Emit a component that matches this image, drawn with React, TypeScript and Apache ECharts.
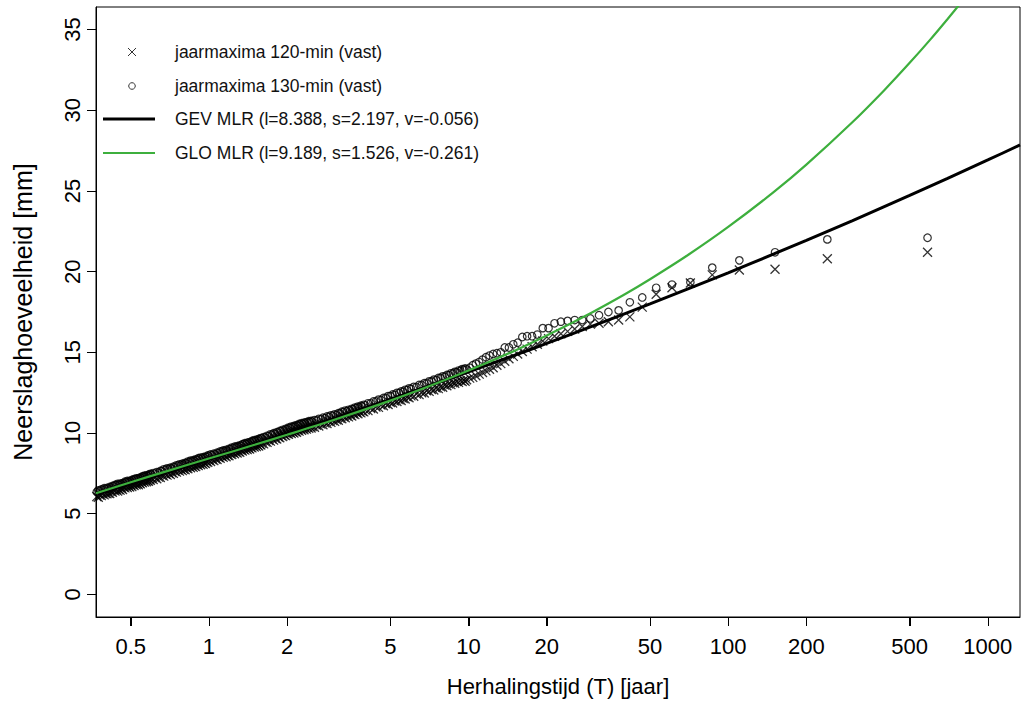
import React, { useEffect, useRef } from "react";
import * as echarts from "echarts";

// Return periods (T, years) shared by both annual-maxima series (same ranks)
const returnPeriod = [
  0.37, 0.38, 0.39, 0.40, 0.41, 0.42, 0.43, 0.44, 0.45, 0.46, 0.47, 0.48, 0.49, 0.50,
  0.51, 0.52, 0.53, 0.54, 0.55, 0.56, 0.57, 0.58, 0.59, 0.60,
  0.62, 0.64, 0.66, 0.68, 0.70, 0.72, 0.74, 0.76, 0.78, 0.80, 0.82, 0.84, 0.86, 0.88, 0.90, 0.92, 0.94, 0.96, 0.98, 1.00,
  1.03, 1.06, 1.09, 1.12, 1.15, 1.18, 1.21, 1.24, 1.27, 1.30, 1.33, 1.36, 1.39, 1.42, 1.45, 1.48, 1.51, 1.54, 1.57, 1.60,
  1.65, 1.70, 1.75, 1.80, 1.85, 1.90, 1.95, 2.00, 2.05, 2.10, 2.15, 2.20, 2.25, 2.30, 2.35, 2.40, 2.45, 2.50,
  2.6, 2.7, 2.8, 2.9, 3.0, 3.1, 3.2, 3.3, 3.4, 3.5, 3.6, 3.7, 3.8, 3.9, 4.0,
  4.2, 4.4, 4.6, 4.8, 5.0, 5.2, 5.4, 5.6, 5.8, 6.0,
  6.3, 6.6, 6.9, 7.2, 7.5, 7.8, 8.1, 8.4, 8.7, 9.0, 9.3, 9.6,
  9.83, 10.10, 10.38, 10.67, 10.99, 11.32, 11.67, 12.04, 12.44, 12.86, 13.31, 13.79, 14.31, 14.87, 15.46, 16.11,
  16.81, 17.57, 18.41, 19.32, 20.33, 21.44, 22.68, 24.07, 25.64, 27.42, 29.45, 31.81, 34.57, 37.85, 41.81, 46.67,
  52.80, 60.75, 71.50, 86.82, 110.4, 151.5, 240.9, 585.8,
];

// jaarmaxima 120-min (vast) [mm]
const max120 = [
  6.06, 6.16, 6.23, 6.25, 6.28, 6.37, 6.46, 6.49, 6.49, 6.56, 6.64, 6.71, 6.71, 6.74,
  6.80, 6.86, 6.87, 6.89, 6.96, 7.03, 7.05, 7.06, 7.12, 7.18,
  7.23, 7.27, 7.36, 7.45, 7.49, 7.53, 7.62, 7.70, 7.73, 7.76, 7.83, 7.91, 7.94, 7.96, 8.03, 8.10, 8.12, 8.15, 8.22, 8.29,
  8.34, 8.39, 8.48, 8.56, 8.59, 8.62, 8.71, 8.78, 8.82, 8.85, 8.93, 9.00, 9.03, 9.06, 9.12, 9.19, 9.22, 9.25, 9.31, 9.37,
  9.45, 9.54, 9.62, 9.66, 9.75, 9.83, 9.88, 9.96, 10.03, 10.06, 10.10, 10.16, 10.23, 10.26, 10.29, 10.35, 10.38, 10.40,
  10.48, 10.55, 10.62, 10.71, 10.77, 10.82, 10.91, 11.00, 11.05, 11.10, 11.18, 11.26, 11.30, 11.35, 11.42,
  11.52, 11.61, 11.73, 11.81, 11.89, 11.99, 12.06, 12.14, 12.24, 12.30,
  12.41, 12.50, 12.62, 12.70, 12.79, 12.87, 12.97, 13.04, 13.12, 13.19, 13.25, 13.28,
  13.3, 13.4, 13.45, 13.55, 13.65, 13.75, 13.85, 13.95, 14.05, 14.2, 14.3, 14.45, 14.6, 14.75, 14.9, 15.05,
  15.2, 15.35, 15.5, 15.7, 15.85, 16.0, 16.15, 16.3, 16.45, 16.6, 16.75, 16.8, 16.9, 17.0, 17.2, 17.8,
  18.6, 19.0, 19.3, 19.8, 20.1, 20.15, 20.8, 21.2,
];

// jaarmaxima 130-min (vast) [mm]
const max130 = [
  6.34, 6.42, 6.49, 6.53, 6.56, 6.63, 6.70, 6.77, 6.79, 6.82, 6.88, 6.95, 6.97, 7.00,
  7.06, 7.12, 7.14, 7.16, 7.22, 7.29, 7.31, 7.33, 7.38, 7.43,
  7.49, 7.54, 7.64, 7.73, 7.77, 7.81, 7.89, 7.98, 8.02, 8.05, 8.12, 8.21, 8.24, 8.27, 8.34, 8.41, 8.42, 8.45, 8.51, 8.58,
  8.63, 8.68, 8.76, 8.84, 8.88, 8.91, 9.00, 9.07, 9.11, 9.14, 9.21, 9.29, 9.32, 9.35, 9.41, 9.48, 9.51, 9.54, 9.60, 9.66,
  9.72, 9.81, 9.90, 9.95, 10.03, 10.11, 10.16, 10.24, 10.32, 10.36, 10.40, 10.46, 10.53, 10.56, 10.59, 10.65, 10.68, 10.70,
  10.78, 10.85, 10.92, 11.01, 11.07, 11.12, 11.21, 11.30, 11.35, 11.40, 11.48, 11.56, 11.60, 11.65, 11.72,
  11.84, 11.96, 12.05, 12.17, 12.29, 12.37, 12.48, 12.56, 12.67, 12.74,
  12.85, 12.98, 13.08, 13.20, 13.29, 13.41, 13.49, 13.59, 13.69, 13.76, 13.86, 13.93,
  13.95, 14.05, 14.2, 14.3, 14.4, 14.55, 14.7, 14.8, 14.9, 14.95, 15.0, 15.3, 15.3, 15.5, 15.6, 15.95,
  16.0, 16.0, 16.1, 16.5, 16.5, 16.8, 16.9, 16.95, 17.0, 17.0, 17.1, 17.3, 17.5, 17.6, 18.1, 18.4,
  19.0, 19.2, 19.35, 20.25, 20.7, 21.2, 22.0, 22.1,
];

// Further (intermediate-rank) years of the dense part of the record
const returnPeriodMid = [
  0.375, 0.385, 0.395, 0.405, 0.415, 0.425, 0.435, 0.445, 0.455, 0.465, 0.475, 0.485, 0.495, 0.505,
  0.515, 0.525, 0.535, 0.545, 0.555, 0.565, 0.575, 0.585, 0.595, 0.61,
  0.63, 0.65, 0.67, 0.69, 0.71, 0.73, 0.75, 0.77, 0.79, 0.81, 0.83, 0.85, 0.87, 0.89, 0.91, 0.93, 0.95, 0.97, 0.99, 1.015,
  1.045, 1.075, 1.105, 1.135, 1.165, 1.195, 1.225, 1.255, 1.285, 1.315, 1.345, 1.375, 1.405, 1.435, 1.465, 1.495, 1.525, 1.555, 1.585, 1.625,
  1.675, 1.725, 1.775, 1.825, 1.875, 1.925, 1.975, 2.025, 2.075, 2.125, 2.175, 2.225, 2.275, 2.325, 2.375, 2.425, 2.475, 2.55,
  2.65, 2.75, 2.85, 2.95, 3.05, 3.15, 3.25, 3.35, 3.45, 3.55, 3.65, 3.75, 3.85, 3.95, 4.1,
  4.3, 4.5, 4.7, 4.9, 5.1, 5.3, 5.5, 5.7, 5.9, 6.15,
  6.45, 6.75, 7.05, 7.35, 7.65, 7.95, 8.25, 8.55, 8.85, 9.15, 9.45, 9.7,
];
const max120Mid = [
  6.02, 6.12, 6.17, 6.24, 6.25, 6.33, 6.41, 6.40, 6.46, 6.50, 6.60, 6.62, 6.66, 6.68,
  6.75, 6.79, 6.80, 6.85, 6.92, 6.96, 6.98, 7.01, 7.07, 7.12,
  7.17, 7.24, 7.33, 7.39, 7.43, 7.50, 7.58, 7.64, 7.67, 7.72, 7.79, 7.85, 7.87, 7.92, 7.99, 8.03, 8.06, 8.11, 8.18, 8.24,
  8.29, 8.36, 8.44, 8.50, 8.53, 8.59, 8.67, 8.72, 8.76, 8.81, 8.89, 8.94, 8.97, 9.01, 9.08, 9.13, 9.16, 9.20, 9.26, 9.33,
  9.42, 9.50, 9.56, 9.63, 9.71, 9.78, 9.84, 9.92, 9.97, 10.00, 10.05, 10.12, 10.17, 10.20, 10.24, 10.29, 10.31, 10.36,
  10.44, 10.51, 10.59, 10.66, 10.72, 10.79, 10.88, 10.95, 11.00, 11.06, 11.14, 11.20, 11.25, 11.31, 11.39,
  11.49, 11.59, 11.69, 11.77, 11.86, 11.95, 12.02, 12.11, 12.19, 12.28,
  12.38, 12.48, 12.58, 12.67, 12.75, 12.84, 12.93, 13.00, 13.08, 13.14, 13.19, 13.21,
];
const max130Mid = [
  6.45, 6.50, 6.58, 6.60, 6.66, 6.72, 6.78, 6.85, 6.87, 6.90, 6.98, 7.03, 7.04, 7.09,
  7.15, 7.19, 7.21, 7.25, 7.32, 7.36, 7.38, 7.42, 7.47, 7.52,
  7.58, 7.65, 7.75, 7.81, 7.85, 7.91, 8.00, 8.06, 8.10, 8.15, 8.23, 8.29, 8.32, 8.37, 8.44, 8.48, 8.50, 8.54, 8.61, 8.67,
  8.72, 8.78, 8.86, 8.92, 8.96, 9.02, 9.10, 9.15, 9.19, 9.24, 9.31, 9.37, 9.40, 9.44, 9.51, 9.56, 9.59, 9.63, 9.69, 9.75,
  9.83, 9.92, 9.99, 10.05, 10.13, 10.20, 10.26, 10.34, 10.40, 10.44, 10.49, 10.56, 10.61, 10.64, 10.68, 10.73, 10.75, 10.80,
  10.88, 10.95, 11.03, 11.10, 11.16, 11.23, 11.32, 11.39, 11.44, 11.50, 11.58, 11.64, 11.69, 11.75, 11.84,
  11.96, 12.07, 12.17, 12.29, 12.39, 12.49, 12.58, 12.68, 12.77, 12.86,
  12.98, 13.09, 13.20, 13.31, 13.41, 13.51, 13.60, 13.70, 13.79, 13.87, 13.96, 14.00,
];

// Fitted curves
const gevT = [0.3675, 0.5, 0.7, 1, 1.5, 2, 3, 5, 7, 10, 15, 20, 30, 50, 70, 100, 150, 200, 300, 500, 700, 1000, 1330];
const gevValues = [6.25, 6.90, 7.61, 8.39, 9.29, 9.94, 10.88, 12.09, 12.91, 13.79, 14.81, 15.55, 16.62, 18.00, 18.93, 19.93, 21.10, 21.94, 23.15, 24.72, 25.78, 26.92, 27.85];
const gloT = [0.3675, 0.5, 0.7, 1, 1.5, 2, 3, 5, 7, 10, 15, 20, 30, 40, 50, 70, 100, 150, 200, 300, 400, 500, 600, 700, 800];
const gloValues = [6.27, 6.95, 7.67, 8.42, 9.27, 9.89, 10.79, 12.01, 12.88, 13.87, 15.09, 16.04, 17.49, 18.60, 19.53, 21.03, 22.77, 24.94, 26.63, 29.24, 31.26, 32.94, 34.38, 35.66, 36.80];

const xTicks = [0.5, 1, 2, 5, 10, 20, 50, 100, 200, 500, 1000];
const yTicks = [0, 5, 10, 15, 20, 25, 30, 35];

const seriesNames = [
  "jaarmaxima 120-min (vast)",
  "jaarmaxima 130-min (vast)",
  "GEV MLR (l=8.388, s=2.197, v=-0.056)",
  "GLO MLR (l=9.189, s=1.526, v=-0.261)",
];
const xTitle = "Herhalingstijd (T) [jaar]";
const yTitle = "Neerslaghoeveelheid [mm]";

const FONT = "'Liberation Sans', Arial, Helvetica, sans-serif";
const GREEN = "#3daf3d";
const CROSS = "path://M0 0L10 10M10 0L0 10";
const X_MIN = 0.3675;
const X_MAX = 1330;
const Y_MIN = -1.4;
const Y_MAX = 36.4;
const GRID = { left: 96, top: 7, width: 924, height: 610 };

function pairs(xs: number[], ys: number[]) {
  return xs.map((x, i) => [x, ys[i]]);
}

export default function App() {
  const ref = useRef<HTMLDivElement>(null);
  useEffect(() => {
    const chart = echarts.init(ref.current!, null, { renderer: "svg" });
    const legendX = 175;
    const rows = [52, 86, 119, 153];
    const data120 = pairs(returnPeriod, max120).concat(pairs(returnPeriodMid, max120Mid));
    const data130 = pairs(returnPeriod, max130).concat(pairs(returnPeriodMid, max130Mid));

    // x-axis tick marks under the frame, at the log-axis position of each tick value
    const logMin = Math.log10(X_MIN);
    const logSpan = Math.log10(X_MAX) - logMin;
    const bottom = GRID.top + GRID.height;
    const tickGraphics = xTicks.map((t, i) => {
      const px = Math.round(GRID.left + (GRID.width * (Math.log10(t) - logMin)) / logSpan) + 0.5;
      return {
        id: "xt" + i,
        type: "line",
        z: 50,
        shape: { x1: px, y1: bottom, x2: px, y2: bottom + 9 },
        style: { stroke: "#000", lineWidth: 1 },
      };
    });

    chart.setOption({
      animation: false,
      backgroundColor: "#ffffff",
      textStyle: { fontFamily: FONT },
      grid: {
        ...GRID,
        show: true,
        borderColor: "#000",
        borderWidth: 1,
        backgroundColor: "transparent",
      },
      xAxis: {
        type: "log",
        logBase: 10,
        position: "bottom",
        min: X_MIN,
        max: X_MAX,
        axisLine: { show: true, onZero: false, lineStyle: { color: "#000", width: 1 } },
        axisTick: { show: true, length: 9, customValues: xTicks, lineStyle: { color: "#000", width: 1 } },
        minorTick: { show: false },
        axisLabel: {
          customValues: xTicks,
          margin: 18,
          fontSize: 22,
          color: "#000",
          fontFamily: FONT,
          formatter: (v: number) => String(Number(Number(v).toPrecision(6))),
        },
        splitLine: { show: false },
        name: xTitle,
        nameLocation: "middle",
        nameGap: 58,
        nameTextStyle: { fontSize: 22, color: "#000", fontFamily: FONT },
      },
      yAxis: {
        type: "value",
        position: "left",
        min: Y_MIN,
        max: Y_MAX,
        axisLine: { show: true, onZero: false, lineStyle: { color: "#000", width: 1 } },
        axisTick: { show: true, length: 9, customValues: yTicks, lineStyle: { color: "#000", width: 1 } },
        axisLabel: {
          customValues: yTicks,
          rotate: 90,
          margin: 13,
          fontSize: 22,
          color: "#000",
          fontFamily: FONT,
        },
        splitLine: { show: false },
        name: yTitle,
        nameLocation: "middle",
        nameGap: 61,
        nameTextStyle: { fontSize: 25, color: "#000", fontFamily: FONT },
      },
      series: [
        {
          name: seriesNames[1],
          type: "scatter",
          data: data130,
          symbol: "circle",
          symbolSize: 7.5,
          itemStyle: { color: "transparent", borderColor: "#000", borderWidth: 1.2 },
          z: 2,
        },
        {
          name: seriesNames[0],
          type: "scatter",
          data: data120,
          symbol: CROSS,
          symbolSize: 9,
          itemStyle: { color: "transparent", borderColor: "#000", borderWidth: 1.3 },
          z: 3,
        },
        {
          name: seriesNames[2],
          type: "line",
          data: pairs(gevT, gevValues),
          showSymbol: false,
          symbol: "none",
          smooth: 0.3,
          lineStyle: { color: "#000", width: 3 },
          z: 4,
        },
        {
          name: seriesNames[3],
          type: "line",
          data: pairs(gloT, gloValues),
          showSymbol: false,
          symbol: "none",
          smooth: 0.3,
          lineStyle: { color: GREEN, width: 2.2 },
          z: 5,
        },
      ],
      graphic: [
        { id: "lg-x1", type: "line", z: 10, shape: { x1: 128, y1: rows[0] - 4, x2: 136, y2: rows[0] + 4 }, style: { stroke: "#333", lineWidth: 1 } },
        { id: "lg-x2", type: "line", z: 10, shape: { x1: 136, y1: rows[0] - 4, x2: 128, y2: rows[0] + 4 }, style: { stroke: "#333", lineWidth: 1 } },
        { id: "lg-o", type: "circle", z: 10, shape: { cx: 132, cy: rows[1], r: 3.3 }, style: { fill: "none", stroke: "#333", lineWidth: 1 } },
        { id: "lg-gev", type: "line", z: 10, shape: { x1: 103, y1: rows[2], x2: 155, y2: rows[2] }, style: { stroke: "#000", lineWidth: 3 } },
        { id: "lg-glo", type: "line", z: 10, shape: { x1: 103, y1: rows[3], x2: 155, y2: rows[3] }, style: { stroke: GREEN, lineWidth: 2.2 } },
        ...seriesNames.map((name, i) => ({
          id: "lg-t" + i,
          type: "text",
          z: 10,
          x: legendX,
          y: rows[i],
          style: {
            text: name,
            fontSize: 17.5,
            fontFamily: FONT,
            fill: "#111",
            verticalAlign: "middle",
            align: "left",
          },
        })),
        ...tickGraphics,
      ],
    });
    return () => chart.dispose();
  }, []);
  return (
    <div
      ref={ref}
      style={{ position: "absolute", left: 0, top: 0, width: 1022, height: 711 }}
    />
  );
}
